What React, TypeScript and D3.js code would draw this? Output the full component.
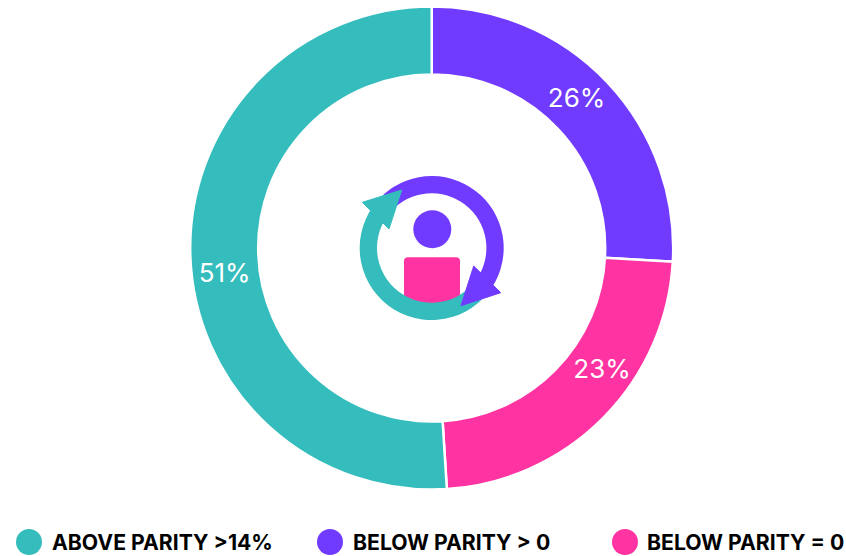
import React from "react";
import * as d3 from "d3";

const categories = ["BELOW PARITY > 0", "BELOW PARITY = 0", "ABOVE PARITY >14%"];
const values = [25.9, 23.1, 51];
const colors = ["#713AFF", "#FF33A1", "#34BDBC"];
const labelAngleShift = [-2.6, -9.6, -5.0];
const legendOrder = [2, 0, 1];
const legendCircleX = [29, 330, 625];
const legendTextX = [52, 353, 647];

const W = 846, H = 556, cx = 431.7, cy = 248;

export default function App() {
  const pie = d3.pie<number>().sort(null)(values);
  const arc = d3.arc<d3.PieArcDatum<number>>().innerRadius(173.5).outerRadius(241.5);
  const ringArc = (a0: number, a1: number) =>
    d3.arc()({ innerRadius: 54.7, outerRadius: 72, startAngle: (a0 * Math.PI) / 180, endAngle: (a1 * Math.PI) / 180 }) as string;
  const labelR = 208.5;
  return (
    <svg width={W} height={H} style={{ position: "absolute", left: 0, top: 0, fontFamily: "Inter, sans-serif" }}>
      <g transform={`translate(${cx},${cy})`}>
        {pie.map((d, i) => (
          <path key={i} d={arc(d) as string} fill={colors[i]} stroke="#fff" strokeWidth={2.5} />
        ))}
        {pie.map((d, i) => {
          const a = (d.startAngle + d.endAngle) / 2 + (labelAngleShift[i] * Math.PI) / 180;
          return (
            <text key={i} x={labelR * Math.sin(a)} y={-labelR * Math.cos(a)} dy="0.36em" textAnchor="middle"
              fill="#fff" fontSize={26}>
              {`${Math.round(values[i])}%`}
            </text>
          );
        })}
        <rect x={-27.7} y={9.3} width={56} height={51} rx={4} fill={colors[1]} />
        <circle cx={0.6} cy={-18.7} r={19} fill={colors[0]} />
        <path d={ringArc(-42, 128)} fill={colors[0]} />
        <path d={ringArc(128, 318)} fill={colors[2]} />
        <polygon points="-30,-58 -69.3,-45.7 -42.7,-19" fill={colors[2]} stroke={colors[2]} strokeWidth={1} strokeLinejoin="round" />
        <polygon points="29.3,57.7 69,44.7 42,18" fill={colors[0]} stroke={colors[0]} strokeWidth={1} strokeLinejoin="round" />
      </g>
      {legendOrder.map((k, i) => (
        <g key={k}>
          <circle cx={legendCircleX[i]} cy={542} r={13} fill={colors[k]} />
          <text x={legendTextX[i]} y={550} fontSize={21.2} fontWeight={700} fill="#000">
            {categories[k]}
          </text>
        </g>
      ))}
    </svg>
  );
}
